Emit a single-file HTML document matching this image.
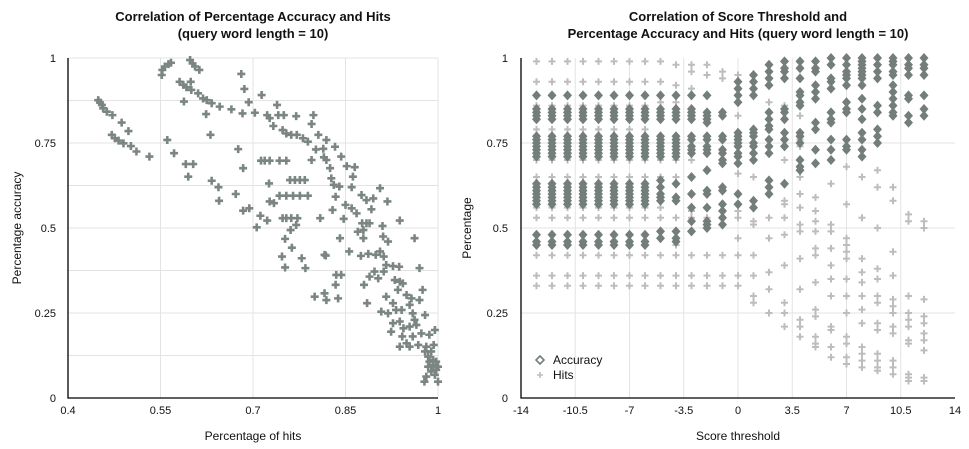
<!DOCTYPE html>
<html><head><meta charset="utf-8"><style>
body{margin:0;background:#fff;}
svg{display:block;font-family:"Liberation Sans",Arial,sans-serif;}
</style></head><body>
<svg id="c" width="969" height="449" viewBox="0 0 969 449">
<g id="left"></g>
<g id="right"></g>
</svg>
<script>
// ---------- Left chart data ----------
const leftXTicks=[0.4,0.55,0.7,0.85,1];
const leftXTickLabels=["0.4","0.55","0.7","0.85","1"];
const leftYTicks=[0,0.25,0.5,0.75,1];
const leftYTickLabels=["0","0.25","0.5","0.75","1"];
const leftHits=[.449,.452,.455,.457,.463,.472,.487,.498,.471,.476,.482,.490,.502,.511,.532,.552,.553,.557,.563,.567,.598,.602,.606,.613,.581,.587,.592,.599,.600,.611,.619,.625,.633,.646,.665,.588,.624,.683,.703,.631,.561,.572,.591,.603,.595,.633,.644,.645,.672,.684,.676,.681,.686,.693,.714,.739,.723,.727,.733,.741,.750,.770,.798,.795,.684,.694,.712,.723,.706,.713,.719,.727,.743,.754,.726,.734,.743,.754,.765,.776,.789,.748,.754,.762,.772,.770,.761,.752,.763,.747,.779,.752,.785,.760,.768,.776,.784,.748,.754,.762,.771,.781,.789,.806,.819,.833,.802,.814,.795,.815,.819,.825,.843,.852,.865,.862,.827,.831,.840,.860,.850,.860,.868,.834,.829,.847,.809,.876,.884,.892,.895,.906,.918,.877,.884,.889,.879,.870,.910,.938,.911,.919,.879,.841,.856,.818,.875,.887,.899,.906,.912,.916,.927,.937,.970,.962,.897,.889,.903,.912,.930,.938,.943,.935,.949,.957,.975,.954,.916,.927,.932,.941,.959,.970,.979,.962,.908,.919,.927,.938,.924,.944,.954,.965,.973,.959,.986,.942,.949,.938,.954,.968,.981,.995,.993,.979,.984,.986,.992,.997,.989,.981,.978,1.0,.995,1.0,.835,.843,.834,.838,.800,.816,.819,.885,.880,.816,.727,.984,.992,.997,.989];
const leftAcc=[.876,.869,.862,.852,.842,.832,.810,.785,.774,.764,.757,.749,.741,.725,.710,.950,.965,.975,.982,.986,.994,.984,.975,.965,.930,.921,.914,.930,.906,.896,.881,.876,.867,.857,.849,.872,.835,.837,.839,.774,.759,.720,.688,.688,.651,.639,.620,.580,.600,.676,.732,.953,.909,.870,.891,.862,.832,.823,.800,.832,.832,.829,.832,.806,.551,.558,.536,.522,.502,.698,.698,.698,.698,.698,.631,.573,.595,.595,.595,.595,.595,.529,.529,.529,.529,.509,.494,.468,.442,.416,.411,.384,.382,.641,.641,.641,.641,.788,.778,.774,.774,.764,.754,.774,.759,.739,.731,.733,.700,.708,.700,.676,.710,.682,.679,.651,.646,.627,.622,.620,.568,.558,.543,.592,.553,.527,.529,.597,.582,.555,.587,.617,.578,.514,.514,.514,.494,.489,.506,.522,.475,.460,.470,.470,.431,.419,.418,.424,.421,.431,.416,.391,.388,.386,.382,.470,.372,.357,.352,.372,.347,.342,.337,.318,.303,.293,.318,.274,.298,.279,.259,.259,.249,.288,.244,.230,.254,.249,.220,.225,.195,.205,.210,.215,.190,.181,.186,.181,.161,.151,.151,.156,.151,.200,.156,.137,.122,.107,.097,.083,.078,.063,.048,.048,.068,.092,.362,.362,.333,.293,.298,.308,.288,.279,.333,.421,.578,.092,.112,.107,.137];

// ---------- Right chart data ----------
const rightXTicks=[-14,-10.5,-7,-3.5,0,3.5,7,10.5,14];
const rightXTickLabels=["-14","-10.5","-7","-3.5","0","3.5","7","10.5","14"];
const rightYTicks=[0,0.25,0.5,0.75,1];
const rightYTickLabels=["0","0.25","0.5","0.75","1"];
const thresholds=[-13,-12,-11,-10,-9,-8,-7,-6,-5,-4,-3,-2,-1,0,1,2,3,4,5,6,7,8,9,10,11,12];
const accEarly=[0.89,0.85,0.84,0.83,0.82,0.77,0.76,0.75,0.74,0.73,0.72,0.71,0.63,0.62,0.61,0.60,0.59,0.58,0.57,0.48,0.46,0.45];
const hitsEarly=[0.99,0.93,0.89,0.86,0.79,0.70,0.65,0.61,0.56,0.53,0.42,0.36,0.33];
const accuracyByThreshold=[accEarly,accEarly,accEarly,accEarly,accEarly,accEarly,accEarly,accEarly,
[0.89,0.85,0.84,0.83,0.82,0.77,0.76,0.75,0.74,0.73,0.72,0.71,0.64,0.62,0.60,0.59,0.58,0.49,0.47],
[0.89,0.85,0.84,0.83,0.82,0.77,0.76,0.75,0.74,0.73,0.72,0.71,0.63,0.59,0.58,0.49,0.47,0.46],
[0.89,0.85,0.84,0.83,0.82,0.77,0.76,0.74,0.73,0.72,0.65,0.60,0.56,0.52,0.49],
[0.89,0.84,0.83,0.82,0.81,0.77,0.76,0.74,0.73,0.72,0.67,0.61,0.60,0.56,0.52,0.51,0.50],
[0.84,0.83,0.77,0.76,0.73,0.72,0.70,0.69,0.62,0.61,0.57,0.55,0.53,0.51],
[0.93,0.91,0.89,0.87,0.78,0.77,0.76,0.75,0.74,0.72,0.71,0.69,0.60,0.57],
[0.95,0.93,0.91,0.89,0.79,0.78,0.77,0.75,0.74,0.72,0.70,0.58,0.56],
[0.98,0.96,0.94,0.92,0.84,0.82,0.80,0.79,0.76,0.74,0.72,0.64,0.62,0.60],
[0.99,0.97,0.96,0.94,0.85,0.84,0.82,0.78,0.76,0.74,0.63],
[0.99,0.97,0.94,0.90,0.89,0.87,0.86,0.78,0.77,0.75,0.70,0.68,0.67],
[0.99,0.97,0.96,0.92,0.90,0.88,0.81,0.79,0.73,0.69],
[1.0,0.98,0.94,0.93,0.91,0.84,0.82,0.81,0.76,0.73,0.70],
[1.0,0.98,0.96,0.95,0.94,0.92,0.87,0.85,0.84,0.76,0.74,0.73],
[1.0,0.99,0.98,0.97,0.96,0.95,0.94,0.92,0.88,0.85,0.82,0.78,0.76,0.73,0.71],
[1.0,0.98,0.96,0.94,0.86,0.84,0.79,0.77,0.75],
[1.0,0.99,0.98,0.96,0.95,0.92,0.90,0.88,0.86,0.84,0.83],
[1.0,0.98,0.97,0.95,0.89,0.88,0.83,0.81],
[1.0,0.98,0.97,0.95,0.89,0.85,0.83]];
const hitsByThreshold=[hitsEarly,hitsEarly,hitsEarly,hitsEarly,hitsEarly,hitsEarly,hitsEarly,hitsEarly,
[0.99,0.93,0.89,0.87,0.70,0.65,0.56,0.53,0.42,0.36,0.33],
[0.98,0.92,0.87,0.70,0.65,0.53,0.45,0.42,0.36,0.33],
[0.98,0.96,0.91,0.74,0.70,0.55,0.53,0.42,0.36,0.33],
[0.98,0.95,0.74,0.53,0.42,0.36,0.33],
[0.96,0.94,0.72,0.53,0.42,0.36,0.33],
[0.95,0.93,0.83,0.66,0.55,0.53,0.47,0.42,0.36,0.33],
[0.65,0.52,0.51,0.42,0.36,0.30,0.28],
[0.87,0.53,0.47,0.37,0.32,0.25],
[0.86,0.70,0.58,0.57,0.53,0.48,0.39,0.28,0.25,0.21],
[0.83,0.76,0.74,0.65,0.60,0.56,0.51,0.49,0.41,0.32,0.23,0.21,0.18],
[0.59,0.55,0.52,0.49,0.44,0.42,0.34,0.26,0.24,0.18,0.16,0.15],
[0.63,0.51,0.49,0.44,0.39,0.35,0.30,0.21,0.20,0.15,0.12],
[0.68,0.57,0.47,0.45,0.43,0.41,0.35,0.30,0.25,0.18,0.16,0.12,0.10],
[0.65,0.53,0.41,0.37,0.34,0.30,0.26,0.22,0.15,0.13,0.11,0.09],
[0.67,0.62,0.50,0.38,0.35,0.30,0.28,0.22,0.20,0.13,0.11,0.09,0.08],
[0.62,0.58,0.43,0.36,0.29,0.27,0.25,0.21,0.19,0.11,0.09,0.07],
[0.54,0.52,0.30,0.25,0.23,0.21,0.17,0.16,0.07,0.06,0.05],
[0.52,0.50,0.29,0.24,0.22,0.19,0.17,0.14,0.06,0.05]];

const NS="http://www.w3.org/2000/svg";
function mk(parent,tag,attrs){const e=document.createElementNS(NS,tag);for(const k in attrs)e.setAttribute(k,attrs[k]);parent.appendChild(e);return e;}
function txt(parent,x,y,s,anchor,size,weight){const t=mk(parent,'text',{x:x,y:y,'text-anchor':anchor,'font-size':size,'font-weight':weight||'normal',fill:'#111'});t.textContent=s;return t;}

// Left axes
const L={x0:68,x1:438,y0:398,y1:58,xmin:0.4,xmax:1,ymin:0,ymax:1};
const lx=v=>L.x0+(v-L.xmin)/(L.xmax-L.xmin)*(L.x1-L.x0);
const ly=v=>L.y0-(v-L.ymin)/(L.ymax-L.ymin)*(L.y0-L.y1);
// Right axes
const R={x0:521,x1:955,y0:398,y1:58,xmin:-14,xmax:14,ymin:0,ymax:1};
const rx=v=>R.x0+(v-R.xmin)/(R.xmax-R.xmin)*(R.x1-R.x0);
const ry=v=>R.y0-(v-R.ymin)/(R.ymax-R.ymin)*(R.y0-R.y1);

const gl=document.getElementById('left'), gr=document.getElementById('right');

// ---- left grid
for(let v=0.125;v<=1.0001;v+=0.125){
  const ln=mk(gl,'line',{x1:L.x0,x2:L.x1,y1:ly(v),y2:ly(v),stroke:'#e3e3e3','stroke-width':1});
  
  
}
leftXTicks.forEach((v,i)=>{
  if(i>0){const ln=mk(gl,'line',{x1:lx(v),x2:lx(v),y1:L.y1,y2:L.y0,stroke:'#e3e3e3','stroke-width':1});
  
  }
  const t=txt(gl,lx(v),414,leftXTickLabels[i],'middle',11);
  
  
});
leftYTicks.forEach((v,i)=>{
  const t=txt(gl,56,ly(v)+4,leftYTickLabels[i],'end',11);
  
  
});
// left points
leftHits.forEach((h,i)=>{
  const x=lx(h),y=ly(leftAcc[i]);
  const p=mk(gl,'path',{d:`M${x-4},${y}H${x+4}M${x},${y-4}V${y+4}`,stroke:'#7b8683','stroke-width':2.6});
  
  
});
const la=mk(gl,'path',{d:`M${L.x0},${L.y1}V${L.y0}H${L.x1}`,stroke:'#000','stroke-width':1.3,fill:'none'});


let t;
t=txt(gl,253,21,'Correlation of Percentage Accuracy and Hits','middle',13,'bold');


t=txt(gl,253,38,'(query word length = 10)','middle',13,'bold');


t=txt(gl,253,440,'Percentage of hits','middle',12);


t=txt(gl,0,0,'Percentage accuracy','middle',12);
t.setAttribute('transform','translate(21,228) rotate(-90)');



// ---- right grid
rightYTicks.forEach((v,i)=>{
  if(i>0&&i<4){const ln=mk(gr,'line',{x1:R.x0,x2:R.x1,y1:ry(v),y2:ry(v),stroke:'#e3e3e3','stroke-width':1});
  
  }
  const t=txt(gr,508,ry(v)+4,rightYTickLabels[i],'end',11);
  
  
});
rightXTicks.forEach((v,i)=>{
  if(i>0&&i<8){const ln=mk(gr,'line',{x1:rx(v),x2:rx(v),y1:R.y1,y2:R.y0,stroke:'#e3e3e3','stroke-width':1});
  
  }
  const t=txt(gr,rx(v),414,rightXTickLabels[i],'middle',11);
  
  
});
// hits series
thresholds.forEach((th,i)=>{
  hitsByThreshold[i].forEach(v=>{
    const x=rx(th),y=ry(v);
    const p=mk(gr,'path',{d:`M${x-3.5},${y}H${x+3.5}M${x},${y-3.5}V${y+3.5}`,stroke:'#bdbdbd','stroke-width':2});
    
    
  });
});
// accuracy series
thresholds.forEach((th,i)=>{
  accuracyByThreshold[i].forEach(v=>{
    const x=rx(th),y=ry(v);
    const p=mk(gr,'path',{d:`M${x},${y-5}L${x+4.5},${y}L${x},${y+5}L${x-4.5},${y}Z`,fill:'#737e7b'});
    
    
  });
});
const ra=mk(gr,'path',{d:`M${R.x0},${R.y1}V${R.y0}H${R.x1}`,stroke:'#000','stroke-width':1.3,fill:'none'});


// legend
const lg=mk(gr,'g',{});


const ld=mk(lg,'path',{d:'M540,356L544,360L540,364L536,360Z',fill:'none',stroke:'#737e7b','stroke-width':1.6});


t=txt(lg,553,364,'Accuracy','start',12);


const lh=mk(lg,'path',{d:'M537,375H543M540,372V378',stroke:'#bdbdbd','stroke-width':1.6});


t=txt(lg,553,379,'Hits','start',12);


t=txt(gr,738,21,'Correlation of Score Threshold and','middle',13,'bold');


t=txt(gr,738,38,'Percentage Accuracy and Hits (query word length = 10)','middle',13,'bold');


t=txt(gr,738,440,'Score threshold','middle',12);


t=txt(gr,0,0,'Percentage','middle',12);
t.setAttribute('transform','translate(471,228) rotate(-90)');


</script>
</body></html>
